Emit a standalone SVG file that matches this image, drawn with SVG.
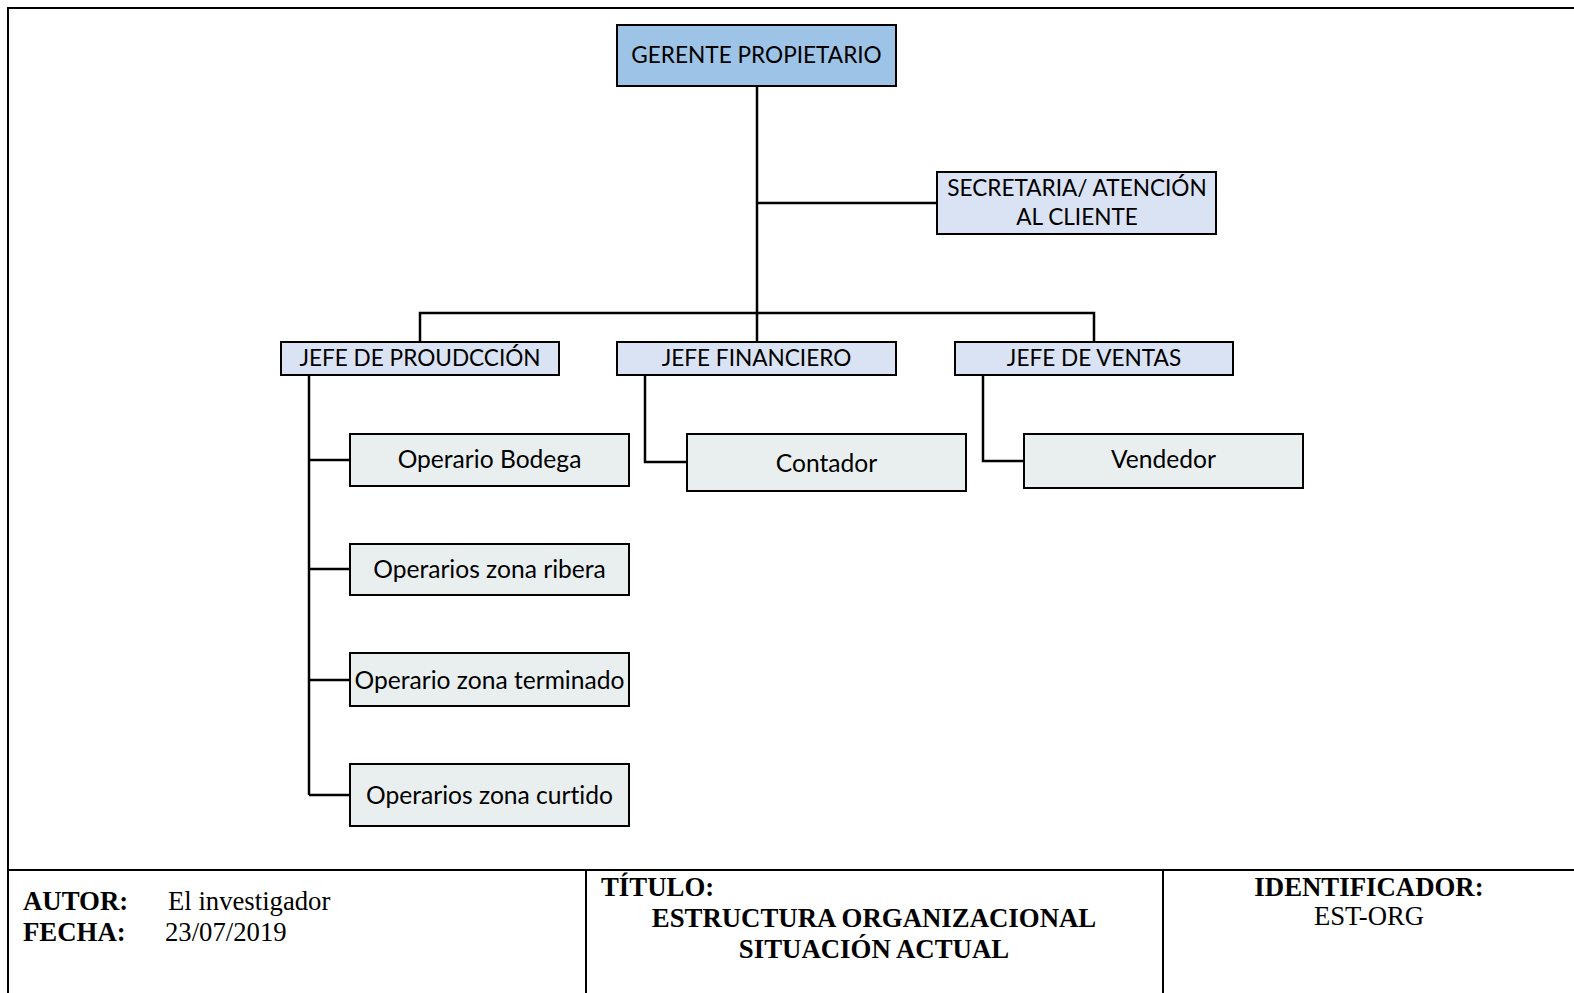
<svg xmlns="http://www.w3.org/2000/svg" width="1574" height="993" viewBox="0 0 1574 993">
<defs>
<style>
.box{stroke:#000;stroke-width:2}
.top{fill:#9DC3E6}
.mid{fill:#DAE3F3}
.leaf{fill:#E9EEEE}
.t{font-family:Lato,"Open Sans",sans-serif;font-size:22.6px;fill:#000;text-anchor:middle;font-variant-ligatures:none}
.l{font-family:Lato,"Open Sans",sans-serif;font-size:24.6px;fill:#000;text-anchor:middle;font-variant-ligatures:none}
.c{fill:none;stroke:#000;stroke-width:2.5}
.frame{fill:none;stroke:#000;stroke-width:2}
.fb{font-family:"Liberation Serif","Times New Roman",serif;font-size:26.8px;font-weight:bold;fill:#000}
.fr{font-family:"Liberation Serif","Times New Roman",serif;font-size:26.7px;fill:#000}
</style>
</defs>
<rect width="1574" height="993" fill="#fff"/>
<g id="frame">
<path class="frame" d="M8,993 V8 H1574"/>
<path class="frame" d="M8,870 H1574 M586,870 V993 M1163,870 V993"/>
</g>
<g id="connectors">
<path class="c" d="M757,86 V313 M757,203 H937 M420,342 V313 H1094 V342 M757,313 V342"/>
<path class="c" d="M309,375 V795 M309,460 H350 M309,569 H350 M309,680 H350 M309,795 H350"/>
<path class="c" d="M645,375 V462 H687"/>
<path class="c" d="M983,375 V461 H1024"/>
</g>
<g id="gerente"><rect class="box top" x="617" y="25" width="279" height="61"/><text class="t" x="756.5" y="63">GERENTE PROPIETARIO</text></g>
<g id="secretaria"><rect class="box mid" x="937" y="172" width="279" height="62"/><text class="t" x="1077" y="196">SECRETARIA/ ATENCIÓN</text><text class="t" x="1077" y="225">AL CLIENTE</text></g>
<g id="jefe-produccion"><rect class="box mid" x="281" y="342" width="278" height="33"/><text class="t" x="420" y="366">JEFE DE PROUDCCIÓN</text></g>
<g id="jefe-financiero"><rect class="box mid" x="617" y="342" width="279" height="33"/><text class="t" x="756.5" y="366">JEFE FINANCIERO</text></g>
<g id="jefe-ventas"><rect class="box mid" x="955" y="342" width="278" height="33"/><text class="t" x="1094" y="366">JEFE DE VENTAS</text></g>
<g id="operario-bodega"><rect class="box leaf" x="350" y="434" width="279" height="52"/><text class="l" x="489.5" y="468">Operario Bodega</text></g>
<g id="operarios-ribera"><rect class="box leaf" x="350" y="544" width="279" height="51"/><text class="l" x="489.5" y="578">Operarios zona ribera</text></g>
<g id="operario-terminado"><rect class="box leaf" x="350" y="653" width="279" height="53"/><text class="l" x="489.5" y="689">Operario zona terminado</text></g>
<g id="operarios-curtido"><rect class="box leaf" x="350" y="764" width="279" height="62"/><text class="l" x="489.5" y="804">Operarios zona curtido</text></g>
<g id="contador"><rect class="box leaf" x="687" y="434" width="279" height="57"/><text class="l" x="826.5" y="472">Contador</text></g>
<g id="vendedor"><rect class="box leaf" x="1024" y="434" width="279" height="54"/><text class="l" x="1163.5" y="468">Vendedor</text></g>
<g id="footer">
<text class="fb" x="23" y="910">AUTOR:</text><text class="fr" x="168" y="910">El investigador</text>
<text class="fb" x="23" y="941">FECHA:</text><text class="fr" x="165" y="941">23/07/2019</text>
<text class="fb" x="601" y="896">TÍTULO:</text>
<text class="fb" x="874" y="927" text-anchor="middle">ESTRUCTURA ORGANIZACIONAL</text>
<text class="fb" x="874" y="958" text-anchor="middle">SITUACIÓN ACTUAL</text>
<text class="fb" x="1369" y="896" text-anchor="middle">IDENTIFICADOR:</text>
<text class="fr" x="1369" y="925" text-anchor="middle">EST-ORG</text>
</g>
</svg>
